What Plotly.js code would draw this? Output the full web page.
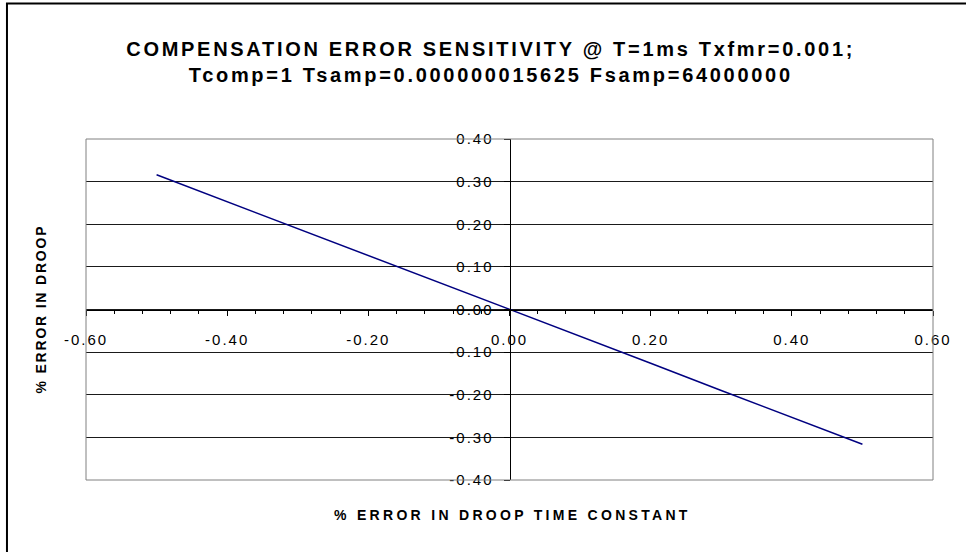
<!DOCTYPE html>
<html>
<head>
<meta charset="utf-8">
<script src="https://cdn.plot.ly/plotly-3.0.1.min.js"></script>
<style>
  html, body { margin: 0; padding: 0; background: #fff; }
  #chart { width: 966px; height: 552px; }
  .gtitle { letter-spacing: 2.7px; }
  .xtick text, .ytick text { letter-spacing: 2px; }
</style>
</head>
<body>
<div id="chart"></div>
<script>
// Data
const errTimeConst = [-0.5, -0.4, -0.3, -0.2, -0.1, 0.0, 0.1, 0.2, 0.3, 0.4, 0.5];
const errDroop = [0.316, 0.253, 0.190, 0.126, 0.063, 0.0, -0.063, -0.126, -0.190, -0.253, -0.316];

// Tick labels (plain hyphen minus, as in the reference)
const xTickVals = [-0.6, -0.4, -0.2, 0.0, 0.2, 0.4, 0.6];
const xTickText = ["-0.60", "-0.40", "-0.20", "0.00", "0.20", "0.40", "0.60"];
const yTickVals = [-0.4, -0.3, -0.2, -0.1, 0.0, 0.1, 0.2, 0.3, 0.4];
const yTickText = ["-0.40", "-0.30", "-0.20", "-0.10", "0.00", "0.10", "0.20", "0.30", "0.40"];

const titleLines = [
  "COMPENSATION ERROR SENSITIVITY @ T=1ms Txfmr=0.001;",
  "Tcomp=1 Tsamp=0.000000015625 Fsamp=64000000"
];
const xTitle = "% ERROR IN DROOP TIME CONSTANT";
const yTitle = "% ERROR IN DROOP";

const FONT = "Liberation Sans, Arial, sans-serif";

const trace = {
  x: errTimeConst,
  y: errDroop,
  type: "scatter",
  mode: "lines",
  line: { color: "#000080", width: 1.5 },
  hoverinfo: "x+y"
};

const layout = {
  width: 966,
  height: 552,
  autosize: false,
  paper_bgcolor: "#ffffff",
  plot_bgcolor: "#ffffff",
  margin: { l: 86, r: 33, t: 139, b: 72, pad: 0 },
  showlegend: false,
  font: { family: FONT, color: "#000000", size: 15 },
  title: {
    text: titleLines.join("<br>"),
    font: { family: FONT, size: 20, weight: "bold", color: "#000" },
    xref: "container", x: 0.508, xanchor: "center",
    yref: "container", y: 0.898, yanchor: "middle"
  },
  xaxis: {
    range: [-0.6, 0.6],
    tickmode: "array", tickvals: xTickVals, ticktext: xTickText,
    showgrid: false,
    zeroline: false,
    showline: true, linecolor: "#000", linewidth: 1,
    anchor: "free", position: 0.5,
    ticks: "outside", ticklen: 5, tickcolor: "#000", tickwidth: 1,
    ticklabelstandoff: 11,
    tickfont: { family: FONT, size: 15, color: "#000" },
    minor: { dtick: 0.04, tick0: 0, ticks: "outside", ticklen: 3, tickcolor: "#000", showgrid: false },
    fixedrange: true
  },
  yaxis: {
    range: [-0.4, 0.4],
    tickmode: "array", tickvals: yTickVals, ticktext: yTickText,
    showgrid: true, gridcolor: "#1a1a1a", gridwidth: 1,
    zeroline: false,
    showline: true, linecolor: "#000", linewidth: 1,
    anchor: "free", position: 0.5,
    ticks: "outside", ticklen: 6, tickcolor: "#000", tickwidth: 1,
    ticklabelstandoff: 7,
    tickfont: { family: FONT, size: 15, color: "#000" },
    fixedrange: true
  },
  annotations: [
    {
      text: "<span style='letter-spacing:3.3px'>" + xTitle + "</span>",
      xref: "paper", yref: "paper",
      x: 0.503, y: -0.103, xanchor: "center", yanchor: "middle",
      showarrow: false,
      font: { family: FONT, size: 14, weight: "bold", color: "#000" }
    },
    {
      text: "<span style='letter-spacing:1.8px'>" + yTitle + "</span>",
      xref: "paper", yref: "paper",
      x: -0.0543, y: 0.5, xanchor: "center", yanchor: "middle",
      textangle: -90, showarrow: false,
      font: { family: FONT, size: 14, weight: "bold", color: "#000" }
    }
  ],
  shapes: [
    // plot area border
    { type: "rect", xref: "paper", yref: "paper", x0: 0, x1: 1, y0: 0, y1: 1,
      line: { color: "#808080", width: 1 }, layer: "above" },
    // outer chart frame (left and top edges visible)
    { type: "line", xref: "paper", yref: "paper", x0: -0.0933, x1: -0.0933, y0: 1.397, y1: -0.25,
      line: { color: "#000", width: 2 } },
    { type: "line", xref: "paper", yref: "paper", x0: -0.0945, x1: 1.05, y0: 1.397, y1: 1.397,
      line: { color: "#000", width: 2 } }
  ]
};

Plotly.newPlot("chart", [trace], layout, { staticPlot: true, displayModeBar: false });
</script>
</body>
</html>
